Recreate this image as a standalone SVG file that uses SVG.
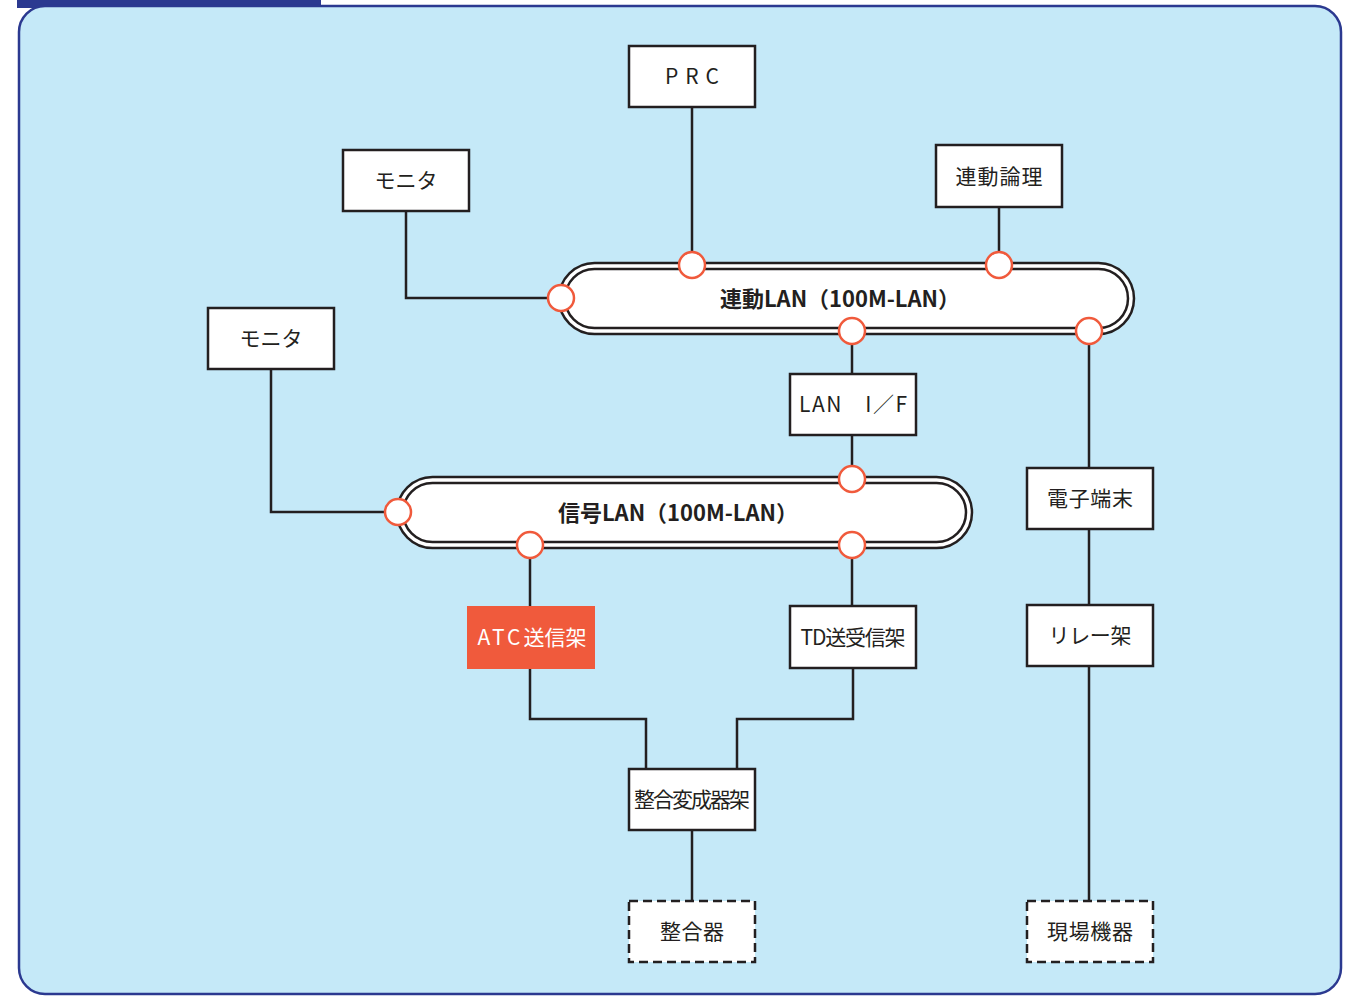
<svg xmlns="http://www.w3.org/2000/svg" width="1357" height="996" viewBox="0 0 1357 996">
<defs>
<style>
.box{fill:#fff;stroke:#231f20;stroke-width:2.5}
.dash{fill:#fff;stroke:#231f20;stroke-width:2.5;stroke-dasharray:9 5}
.t{font-family:"Noto Sans CJK JP","Noto Sans",sans-serif;font-size:21px;fill:#231f20;text-anchor:middle;dominant-baseline:central}
.tb{font-family:"Noto Sans CJK JP","Noto Sans",sans-serif;font-size:22px;font-weight:bold;fill:#231f20;text-anchor:middle;dominant-baseline:central}
.ln{fill:none;stroke:#231f20;stroke-width:2.5}
.pillo{fill:#fff;stroke:#231f20;stroke-width:2.5}
.pilli{fill:none;stroke:#231f20;stroke-width:2.5}
.port{fill:#fff;stroke:#f05a3c;stroke-width:2.5}
</style>
</defs>
<rect width="1357" height="996" fill="#fff"/>
<rect x="17" y="0" width="304" height="8" fill="#2b3990"/>
<rect x="19" y="6" width="1322" height="988" rx="26" fill="#c5e9f8" stroke="#2b3990" stroke-width="2.5"/>

<g id="connectors">
<path class="ln" d="M692 107V252"/>
<path class="ln" d="M999 207V252"/>
<path class="ln" d="M406 211V298H548"/>
<path class="ln" d="M271 369V512H385"/>
<path class="ln" d="M852 344V374"/>
<path class="ln" d="M852 435V466"/>
<path class="ln" d="M1089 344V468"/>
<path class="ln" d="M1089 529V605"/>
<path class="ln" d="M1089 666V901"/>
<path class="ln" d="M530 558V606"/>
<path class="ln" d="M852 558V606"/>
<path class="ln" d="M530 669V719H646V769"/>
<path class="ln" d="M853 668V719H737V769"/>
<path class="ln" d="M692 830V901"/>
</g>

<g id="lan-rendo">
<rect class="pillo" x="559" y="263" width="575" height="71" rx="35.5"/>
<rect class="pilli" x="565" y="269" width="563" height="59" rx="29.5"/>
<text class="tb" x="840" y="297" textLength="240" lengthAdjust="spacingAndGlyphs">連動LAN（100M-LAN）</text>
<circle class="port" cx="692" cy="265" r="13"/>
<circle class="port" cx="999" cy="265" r="13"/>
<circle class="port" cx="561" cy="298" r="13"/>
<circle class="port" cx="852" cy="331" r="13"/>
<circle class="port" cx="1089" cy="331" r="13"/>
</g>

<g id="lan-shingo">
<rect class="pillo" x="397" y="477" width="575" height="71" rx="35.5"/>
<rect class="pilli" x="403" y="483" width="563" height="59" rx="29.5"/>
<text class="tb" x="678" y="511" textLength="240" lengthAdjust="spacingAndGlyphs">信号LAN（100M-LAN）</text>
<circle class="port" cx="398" cy="512" r="13"/>
<circle class="port" cx="852" cy="479" r="13"/>
<circle class="port" cx="530" cy="545" r="13"/>
<circle class="port" cx="852" cy="545" r="13"/>
</g>

<g id="prc"><rect class="box" x="629" y="46" width="126" height="61"/><text class="t" x="692" y="75" textLength="54">PRC</text></g>
<g id="monitor1"><rect class="box" x="343" y="150" width="126" height="61"/><text class="t" x="406" y="179">モニタ</text></g>
<g id="rendo-ronri"><rect class="box" x="936" y="145" width="126" height="62"/><text class="t" x="999" y="175" textLength="87">連動論理</text></g>
<g id="monitor2"><rect class="box" x="208" y="308" width="126" height="61"/><text class="t" x="271" y="337">モニタ</text></g>
<g id="lan-if"><rect class="box" x="790" y="374" width="126" height="61"/><text class="t" x="853" y="403" textLength="108" xml:space="preserve">LAN　I／F</text></g>
<g id="denshi"><rect class="box" x="1027" y="468" width="126" height="61"/><text class="t" x="1090" y="497" textLength="86">電子端末</text></g>
<g id="atc"><rect x="467" y="606" width="128" height="63" fill="#f05a3c"/><text class="t" x="532" y="636" style="fill:#fff"><tspan letter-spacing="3">ATC</tspan>送信架</text></g>
<g id="td"><rect class="box" x="790" y="606" width="126" height="62"/><text class="t" x="853" y="636" textLength="105">TD送受信架</text></g>
<g id="relay"><rect class="box" x="1027" y="605" width="126" height="61"/><text class="t" x="1090" y="634" textLength="83">リレー架</text></g>
<g id="seigo-hensei"><rect class="box" x="629" y="769" width="126" height="61"/><text class="t" x="692" y="798" textLength="116">整合変成器架</text></g>
<g id="seigoki"><rect class="dash" x="629" y="901" width="126" height="61"/><text class="t" x="692" y="930" textLength="64">整合器</text></g>
<g id="genba"><rect class="dash" x="1027" y="901" width="126" height="61"/><text class="t" x="1090" y="930" textLength="86">現場機器</text></g>
</svg>
